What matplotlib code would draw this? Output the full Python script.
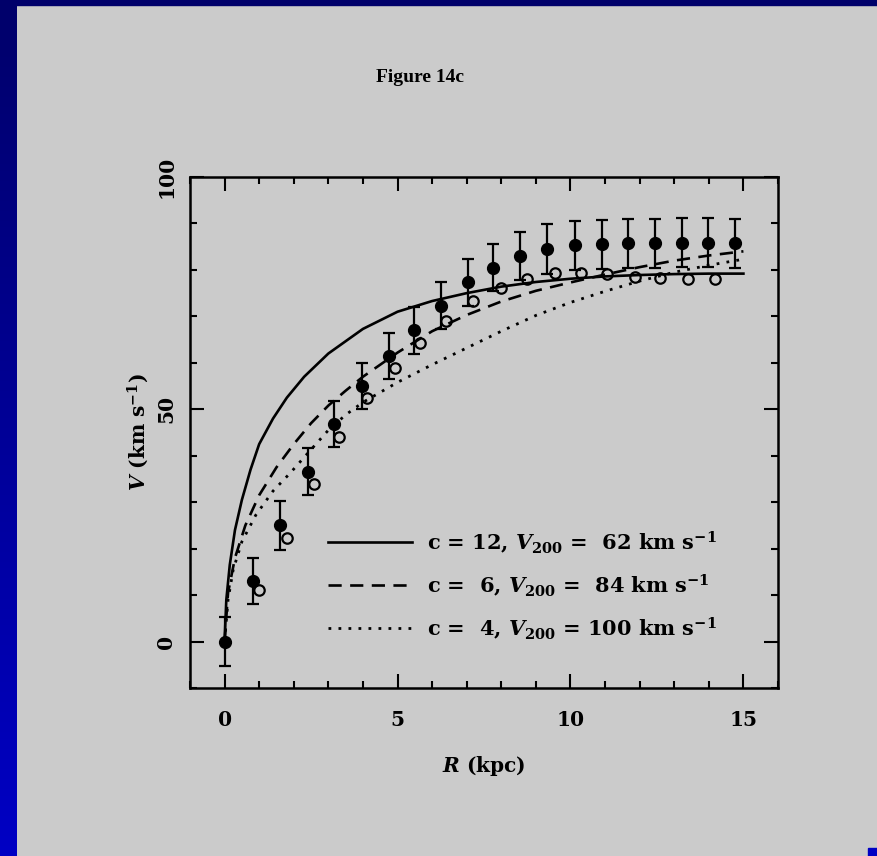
import numpy as np
import matplotlib
matplotlib.use('Agg')
import matplotlib.pyplot as plt
from matplotlib.lines import Line2D
from matplotlib.patches import Rectangle
from matplotlib.colors import LinearSegmentedColormap
from matplotlib.font_manager import FontProperties
from matplotlib.ticker import MultipleLocator

plt.rcParams['mathtext.fontset'] = 'custom'
plt.rcParams['mathtext.rm'] = 'DejaVu Serif:bold'
plt.rcParams['mathtext.it'] = 'DejaVu Serif:italic:bold'
plt.rcParams['mathtext.bf'] = 'DejaVu Serif:bold'
plt.rcParams['font.family'] = 'DejaVu Serif'
plt.rcParams['font.weight'] = 'bold'
plt.rcParams['axes.labelweight'] = 'bold'

# ---- data ----
R_filled = [0, 0.83, 1.61, 2.41, 3.15, 3.96, 4.76, 5.48, 6.25, 7.03,
            7.77, 8.55, 9.32, 10.12, 10.9, 11.67, 12.45, 13.22, 13.97, 14.77]
V_filled = [0, 13, 25, 36.6, 46.8, 55, 61.5, 67, 72.3, 77.3,
            80.5, 83, 84.5, 85.3, 85.5, 85.7, 85.7, 85.9, 85.9, 85.7]
E_filled = [5.2, 5, 5.2, 5, 5, 5, 5, 5, 5, 5,
            5, 5.1, 5.3, 5.3, 5.3, 5.3, 5.3, 5.3, 5.3, 5.3]

R_open = [1.0, 1.8, 2.58, 3.3, 4.13, 4.93, 5.65, 6.4, 7.17, 8.0,
          8.75, 9.55, 10.3, 11.07, 11.87, 12.6, 13.4, 14.17]
V_open = [11, 22.3, 34, 44, 52.5, 58.8, 64.3, 68.9, 73.4, 76,
          78, 79.4, 79.3, 79.2, 78.5, 78.3, 78, 78]

R_c12 = [0, 0.05, 0.15, 0.3, 0.5, 0.75, 1.0, 1.4, 1.8, 2.3, 3.0, 4.0, 5.0,
         6.0, 7.0, 8.0, 9.0, 10.0, 11.0, 12.0, 13.0, 14.0, 15.0]
V_c12 = [0, 9, 16.5, 24, 30.5, 37, 42.5, 48, 52.5, 57, 62, 67.3, 71,
         73.3, 75, 76.4, 77.4, 78.1, 78.6, 78.9, 79.1, 79.2, 79.2]

R_c6 = [0, 0.1, 0.3, 0.6, 1.0, 1.5, 2.0, 2.5, 3.0, 3.5, 4.0, 5.0, 6.0,
        7.0, 8.0, 9.0, 10.0, 11.0, 12.0, 13.0, 14.0, 15.0]
V_c6 = [0, 10.5, 18, 25, 31.5, 37.5, 42.5, 47, 50.8, 54, 57, 62.2, 66.8,
        70.3, 73.2, 75.5, 77.3, 79, 80.6, 82, 83.1, 84]

R_c4 = [0, 0.1, 0.25, 0.5, 0.9, 1.4, 1.9, 2.4, 3.0, 3.5, 4.0, 5.0, 6.0,
        7.0, 8.0, 9.0, 10.0, 11.0, 12.0, 13.0, 14.0, 15.0]
V_c4 = [0, 9, 15.5, 21.5, 27.2, 32.4, 36.3, 40.5, 45.5, 48.8, 51.5, 55.8, 59.6,
        63.2, 66.8, 70.2, 73, 75.4, 77.6, 79.5, 81, 82.3]

labels = [r'c = 12, $V_{200}$ =  62 km s$^{-1}$',
          r'c =  6, $V_{200}$ =  84 km s$^{-1}$',
          r'c =  4, $V_{200}$ = 100 km s$^{-1}$']

W, H = 878, 856
fig = plt.figure(figsize=(W / 100, H / 100), dpi=100, facecolor='#cbcbcb')

# blue slide border
cmap = LinearSegmentedColormap.from_list('b', ['#00006a', '#0000c4'])
bg = fig.add_axes([0, 0, 17 / W, 1])
bg.imshow(np.linspace(0, 1, 256).reshape(-1, 1), aspect='auto', cmap=cmap,
          extent=[0, 1, 0, 1], origin='upper')
bg.axis('off')
fig.patches.append(Rectangle((0, 1 - 5 / H), 1, 5 / H, transform=fig.transFigure,
                             color='#00006a', zorder=0))
fig.patches.append(Rectangle((1 - 10 / W, 0), 10 / W, 8 / H, transform=fig.transFigure,
                             color='#0000c4', zorder=0))

fig.text(420 / W, 1 - 78 / H, 'Figure 14c', family='Liberation Serif',
         weight='bold', fontsize=14, ha='center', va='center')

ax = fig.add_axes([190 / W, 1 - 688 / H, 588 / W, 511 / H])
ax.set_facecolor('none')
ax.set_xlim(-1, 16)
ax.set_ylim(-10, 100)

lw = 1.9
ax.plot(R_c12, V_c12, color='black', lw=lw, ls='-')
ax.plot(R_c6, V_c6, color='black', lw=lw, ls=(0, (5, 3.2)))
ax.plot(R_c4, V_c4, color='black', lw=2.0, ls=(0, (1, 2.6)))

ax.errorbar(R_filled, V_filled, yerr=E_filled, fmt='o', color='black',
            ms=8.5, elinewidth=1.6, capsize=4.5, capthick=1.6)
ax.plot(R_open, V_open, 'o', mfc='none', mec='black', ms=7.5, mew=1.6)

for s in ax.spines.values():
    s.set_linewidth(1.8)
ax.xaxis.set_major_locator(MultipleLocator(5))
ax.xaxis.set_minor_locator(MultipleLocator(1))
ax.yaxis.set_major_locator(MultipleLocator(50))
ax.yaxis.set_minor_locator(MultipleLocator(10))
ax.tick_params(which='both', direction='in', top=True, right=True, width=1.5)
ax.tick_params(which='major', length=10)
ax.tick_params(which='minor', length=5)
ax.tick_params(axis='x', which='major', pad=16, labelsize=14.5)
ax.tick_params(axis='y', which='major', pad=10, labelsize=14.5)
for t in ax.get_yticklabels():
    t.set_rotation(90)
    t.set_va('center')

ax.set_xlabel(r'$R$ (kpc)', fontsize=14.5, labelpad=17)
ax.set_ylabel(r'$V$ (km s$^{-1}$)', fontsize=14.5, labelpad=4)

handles = [Line2D([], [], color='black', lw=lw, ls='-'),
           Line2D([], [], color='black', lw=lw, ls=(0, (5, 3.2))),
           Line2D([], [], color='black', lw=2.0, ls=(0, (1, 2.6)))]
ax.legend(handles, labels, loc='upper left', bbox_to_anchor=(0.235, 0.311),
          frameon=False, handlelength=4.0, handletextpad=0.75, labelspacing=0.8,
          borderpad=0, borderaxespad=0,
          prop=FontProperties(family='DejaVu Serif', weight='bold', size=15))

fig.savefig('out.png', dpi=100, facecolor=fig.get_facecolor())
